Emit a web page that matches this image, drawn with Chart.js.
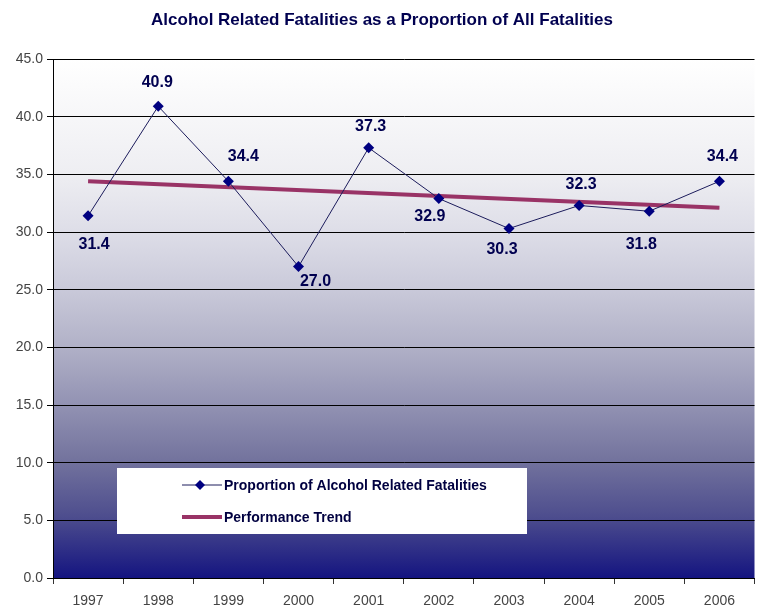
<!DOCTYPE html>
<html>
<head>
<meta charset="utf-8">
<script src="https://cdn.jsdelivr.net/npm/chart.js@4.4.1/dist/chart.umd.min.js"></script>
<style>
  html, body { margin: 0; padding: 0; background: #ffffff; }
  #wrap { width: 760px; height: 609px; position: relative; }
</style>
</head>
<body>
<div id="wrap"><canvas id="c" width="760" height="609"></canvas></div>
<script>
// ---- data ----
const years = ['1997','1998','1999','2000','2001','2002','2003','2004','2005','2006'];
const proportion = [31.4, 40.9, 34.4, 27.0, 37.3, 32.9, 30.3, 32.3, 31.8, 34.4];
// performance trend line: endpoints (straight line between them)
const trend = [34.4, null, null, null, null, null, null, null, null, 32.1];
const yTicks = [0, 5, 10, 15, 20, 25, 30, 35, 40, 45];

const titleText = 'Alcohol Related Fatalities as a Proportion of All Fatalities';
const seriesNames = ['Proportion of Alcohol Related Fatalities', 'Performance Trend'];

// label placement (style config): [dx, dy] relative to the point
const labelOffsets = [[6,29],[-1,-24],[15,-25],[17,15],[2,-21],[-9,18],[-7,21],[2,-21],[-8,33],[3,-25]];

const NAVY = '#000080';
const TREND = '#993366';

const bgPlugin = {
  id: 'bgGrad',
  beforeDraw(chart) {
    const {ctx, chartArea: a} = chart;
    const g = ctx.createLinearGradient(0, a.top, 0, a.bottom);
    g.addColorStop(0, '#ffffff');
    g.addColorStop(0.22, '#eeeef2');
    g.addColorStop(0.33, '#dedee8');
    g.addColorStop(0.44, '#cacada');
    g.addColorStop(0.55, '#b2b2c8');
    g.addColorStop(0.66, '#9494b4');
    g.addColorStop(0.77, '#74749e');
    g.addColorStop(0.88, '#4e4e8e');
    g.addColorStop(1, '#141480');
    ctx.save();
    ctx.fillStyle = g;
    ctx.fillRect(a.left, a.top, a.right - a.left, a.bottom - a.top);
    ctx.restore();
  }
};

const overlayPlugin = {
  id: 'overlay',
  afterDatasetsDraw(chart) {
    const ctx = chart.ctx;
    ctx.save();
    // title
    ctx.fillStyle = '#000050';
    ctx.font = 'bold 17px "Liberation Sans", Arial, sans-serif';
    ctx.textAlign = 'center';
    ctx.textBaseline = 'middle';
    ctx.fillText(titleText, 382, 20);

    // data labels
    const meta = chart.getDatasetMeta(0);
    ctx.font = 'bold 16px "Liberation Sans", Arial, sans-serif';
    ctx.fillStyle = '#000050';
    meta.data.forEach((pt, i) => {
      const o = labelOffsets[i];
      ctx.fillText(proportion[i].toFixed(1), pt.x + o[0], pt.y + o[1]);
    });

    // legend box
    const lx = 117, ly = 468, lw = 410, lh = 66;
    ctx.fillStyle = '#ffffff';
    ctx.fillRect(lx, ly, lw, lh);
    const y1 = 485, y2 = 517;
    ctx.strokeStyle = '#1c1c5c';
    ctx.lineWidth = 1;
    ctx.beginPath(); ctx.moveTo(182, y1); ctx.lineTo(222, y1); ctx.stroke();
    ctx.fillStyle = NAVY;
    ctx.beginPath();
    ctx.moveTo(200, y1 - 5); ctx.lineTo(205, y1); ctx.lineTo(200, y1 + 5); ctx.lineTo(195, y1);
    ctx.closePath(); ctx.fill();
    ctx.strokeStyle = TREND;
    ctx.lineWidth = 4;
    ctx.beginPath(); ctx.moveTo(182, y2); ctx.lineTo(222, y2); ctx.stroke();
    ctx.fillStyle = '#000040';
    ctx.font = 'bold 14px "Liberation Sans", Arial, sans-serif';
    ctx.textAlign = 'left';
    ctx.fillText(seriesNames[0], 224, y1 + 1);
    ctx.fillText(seriesNames[1], 224, y2 + 1);
    ctx.restore();
  }
};

new Chart(document.getElementById('c'), {
  type: 'line',
  data: {
    labels: years,
    datasets: [
      {
        label: seriesNames[0],
        data: proportion,
        borderColor: '#1c1c5c',
        borderWidth: 1,
        pointStyle: 'rectRot',
        pointRadius: 5.5,
        pointBackgroundColor: NAVY,
        pointBorderColor: NAVY,
        pointBorderWidth: 0,
        tension: 0,
        order: 1
      },
      {
        label: seriesNames[1],
        data: trend,
        borderColor: TREND,
        borderWidth: 4,
        pointRadius: 0,
        spanGaps: true,
        tension: 0,
        order: 2
      }
    ]
  },
  options: {
    responsive: false,
    animation: false,
    layout: { padding: { top: 59, left: 0, right: 3, bottom: 0 } },
    plugins: {
      legend: { display: false },
      title: { display: false },
      tooltip: { enabled: false }
    },
    scales: {
      x: {
        offset: true,
        grid: { offset: true, drawOnChartArea: false, drawTicks: true, tickLength: 6, color: '#333333' },
        border: { display: true, color: '#000000', width: 1 },
        ticks: { color: '#444444', font: { size: 14, family: '"Liberation Sans", Arial, sans-serif' }, padding: 9, maxRotation: 0 },
        afterFit(s) { s.height = 31; }
      },
      y: {
        min: 0, max: 45,
        afterBuildTicks(s) { s.ticks = yTicks.map(v => ({ value: v })); },
        grid: { color: '#000000', lineWidth: 1, drawTicks: true, tickLength: 6 },
        border: { display: true, color: '#000000', width: 1 },
        ticks: {
          color: '#444444',
          font: { size: 14, family: '"Liberation Sans", Arial, sans-serif' },
          padding: 4,
          callback: v => Number(v).toFixed(1)
        },
        afterFit(s) { s.width = 53; }
      }
    }
  },
  plugins: [bgPlugin, overlayPlugin]
});
</script>
</body>
</html>
